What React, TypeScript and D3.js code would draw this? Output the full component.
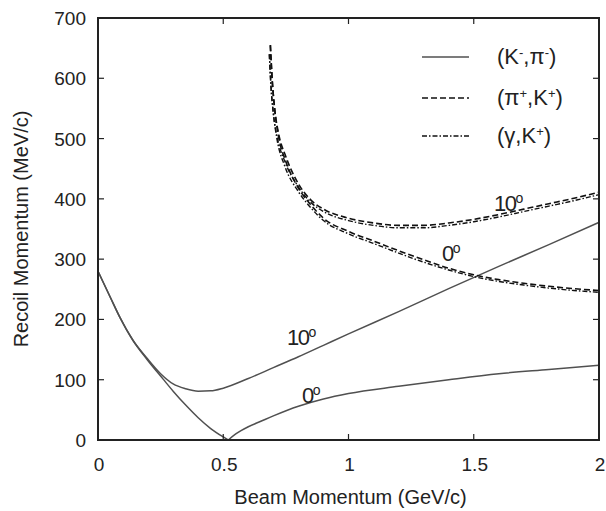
import { curveMonotoneX, line, scaleLinear } from 'd3'

// beam momentum (GeV/c) vs recoil momentum (MeV/c)
const kpi0P = [0, 0.05, 0.088, 0.14, 0.195, 0.26, 0.3, 0.35, 0.4, 0.45, 0.5, 0.52]
const kpi0Q = [280, 236, 203, 165, 134, 101, 81, 58, 37, 19, 5, 0]
const kpi0P2 = [0.52, 0.55, 0.6, 0.65, 0.7, 0.8, 0.9, 1.0, 1.2, 1.4, 1.6, 1.8, 2.0]
const kpi0Q2 = [0, 10, 22, 31, 40, 56, 68, 77, 89, 100, 110, 117, 124]

const kpi10P = [0, 0.05, 0.088, 0.14, 0.195, 0.25, 0.3, 0.35, 0.4, 0.45, 0.5, 0.6, 0.7, 0.8, 0.9, 1.0, 1.2, 1.4, 1.6, 1.8, 2.0]
const kpi10Q = [280, 236, 203, 165, 136, 110, 93, 85, 81, 81.5, 86, 102, 120, 138, 157, 176, 213, 251, 288, 324, 361]

const pik10P = [0.688, 0.695, 0.705, 0.72, 0.75, 0.8, 0.85, 0.9, 1.0, 1.1, 1.2, 1.3, 1.4, 1.5, 1.6, 1.7, 1.8, 1.9, 2.0]
const pik10Q = [655, 600, 550, 510, 470, 425, 398, 383, 368, 360, 356, 356, 360, 366, 374, 383, 392, 401, 411]
const pik0P = [0.688, 0.695, 0.705, 0.72, 0.75, 0.8, 0.85, 0.9, 1.0, 1.1, 1.2, 1.3, 1.4, 1.5, 1.6, 1.7, 1.8, 1.9, 2.0]
const pik0Q = [655, 600, 550, 505, 462, 418, 390, 368, 346, 330, 314, 299, 285, 274, 266, 260, 255, 251, 248]

const gk10P = [0.684, 0.69, 0.7, 0.715, 0.745, 0.8, 0.85, 0.9, 1.0, 1.1, 1.2, 1.3, 1.4, 1.5, 1.6, 1.7, 1.8, 1.9, 2.0]
const gk10Q = [640, 590, 542, 503, 463, 420, 394, 379, 364, 356, 352, 352, 356, 362, 370, 379, 388, 397, 407]
const gk0P = [0.684, 0.69, 0.7, 0.715, 0.745, 0.8, 0.85, 0.9, 1.0, 1.1, 1.2, 1.3, 1.4, 1.5, 1.6, 1.7, 1.8, 1.9, 2.0]
const gk0Q = [640, 590, 542, 498, 455, 412, 385, 364, 342, 326, 310, 295, 282, 271, 263, 257, 252, 248, 245]

const xTicks = [0, 0.5, 1, 1.5, 2]
const xTickLabels = ['0', '0.5', '1', '1.5', '2']
const yTicks = [0, 100, 200, 300, 400, 500, 600, 700]

const W = 606
const H = 511
const left = 98
const right = 599
const top = 18
const bottom = 440

const x = scaleLinear().domain([0, 2]).range([left, right])
const y = scaleLinear().domain([0, 700]).range([bottom, top])

const zip = (ps: number[], qs: number[]) => ps.map((p, i) => [p, qs[i]] as [number, number])
const path = line<[number, number]>()
  .x(d => x(d[0]))
  .y(d => y(d[1]))
  .curve(curveMonotoneX)

const font = 'Liberation Sans, Arial, sans-serif'
const solid = '#505050'
const DASH = '6 3'
const DASHDOT = '5 2 1.5 2'

const Sup = ({ t, size = 13 }: { t: string, size?: number }) => (
  <tspan baselineShift='super' fontSize={size}>{t}</tspan>
)

export default function App() {
  return (
    <svg width={W} height={H} style={{ position: 'absolute', left: 0, top: 0, background: '#fff' }} fontFamily={font}>
      <g fill='none' strokeLinejoin='round'>
        <path d={path(zip(kpi0P, kpi0Q)) ?? ''} stroke={solid} strokeWidth={1.5} />
        <path d={path(zip(kpi0P2, kpi0Q2)) ?? ''} stroke={solid} strokeWidth={1.5} />
        <path d={path(zip(kpi10P, kpi10Q)) ?? ''} stroke={solid} strokeWidth={1.5} />
        <path d={path(zip(pik10P, pik10Q)) ?? ''} stroke='#111' strokeWidth={1.6} strokeDasharray={DASH} />
        <path d={path(zip(pik0P, pik0Q)) ?? ''} stroke='#111' strokeWidth={1.6} strokeDasharray={DASH} />
        <path d={path(zip(gk10P, gk10Q)) ?? ''} stroke='#111' strokeWidth={1.4} strokeDasharray={DASHDOT} />
        <path d={path(zip(gk0P, gk0Q)) ?? ''} stroke='#111' strokeWidth={1.4} strokeDasharray={DASHDOT} />
      </g>

      {/* frame + inward ticks on all sides */}
      <rect x={left} y={top} width={right - left} height={bottom - top} fill='none' stroke='#222' strokeWidth={2} />
      <g stroke='#222' strokeWidth={1.2}>
        {xTicks.map(t => (
          <g key={'x' + t}>
            <line x1={x(t)} x2={x(t)} y1={bottom} y2={bottom - 6} />
            <line x1={x(t)} x2={x(t)} y1={top} y2={top + 6} />
          </g>
        ))}
        {yTicks.map(t => (
          <g key={'y' + t}>
            <line x1={left} x2={left + 6} y1={y(t)} y2={y(t)} />
            <line x1={right} x2={right - 6} y1={y(t)} y2={y(t)} />
          </g>
        ))}
      </g>

      <g fontSize={19} fill='#222'>
        {xTicks.map((t, i) => (
          <text key={'xl' + t} x={x(t) + 1} y={bottom + 31} textAnchor='middle'>{xTickLabels[i]}</text>
        ))}
        {yTicks.map(t => (
          <text key={'yl' + t} x={left - 12} y={y(t) + 7} textAnchor='end'>{t}</text>
        ))}
      </g>
      <g fontSize={20} fill='#222'>
        <text x={(left + right) / 2 + 2} y={504} textAnchor='middle'>Beam Momentum (GeV/c)</text>
        <text transform={`translate(28, ${(top + bottom) / 2}) rotate(-90)`} textAnchor='middle'>Recoil Momentum (MeV/c)</text>
      </g>

      {/* angle labels */}
      <g fontSize={22} fill='#222' letterSpacing={-1.5}>
        <text x={287} y={345}>10<Sup t='o' size={14} /></text>
        <text x={302} y={403}>0<Sup t='o' size={14} /></text>
        <text x={494} y={211}>10<Sup t='o' size={14} /></text>
        <text x={442} y={261}>0<Sup t='o' size={14} /></text>
      </g>

      {/* legend */}
      <g fill='none' stroke='#111'>
        <line x1={422} x2={469} y1={57} y2={57} stroke={solid} strokeWidth={1.5} />
        <line x1={422} x2={469} y1={98} y2={98} strokeWidth={1.6} strokeDasharray={DASH} />
        <line x1={422} x2={469} y1={136} y2={136} strokeWidth={1.4} strokeDasharray={DASHDOT} />
      </g>
      <g fontSize={22} fill='#222'>
        <text x={497} y={64}>(K<Sup t='-' /><tspan baselineShift='0'>,π</tspan><Sup t='-' /><tspan baselineShift='0'>)</tspan></text>
        <text x={497} y={105}>(π<Sup t='+' /><tspan baselineShift='0'>,K</tspan><Sup t='+' /><tspan baselineShift='0'>)</tspan></text>
        <text x={497} y={143}>(γ,K<Sup t='+' /><tspan baselineShift='0'>)</tspan></text>
      </g>
    </svg>
  )
}
